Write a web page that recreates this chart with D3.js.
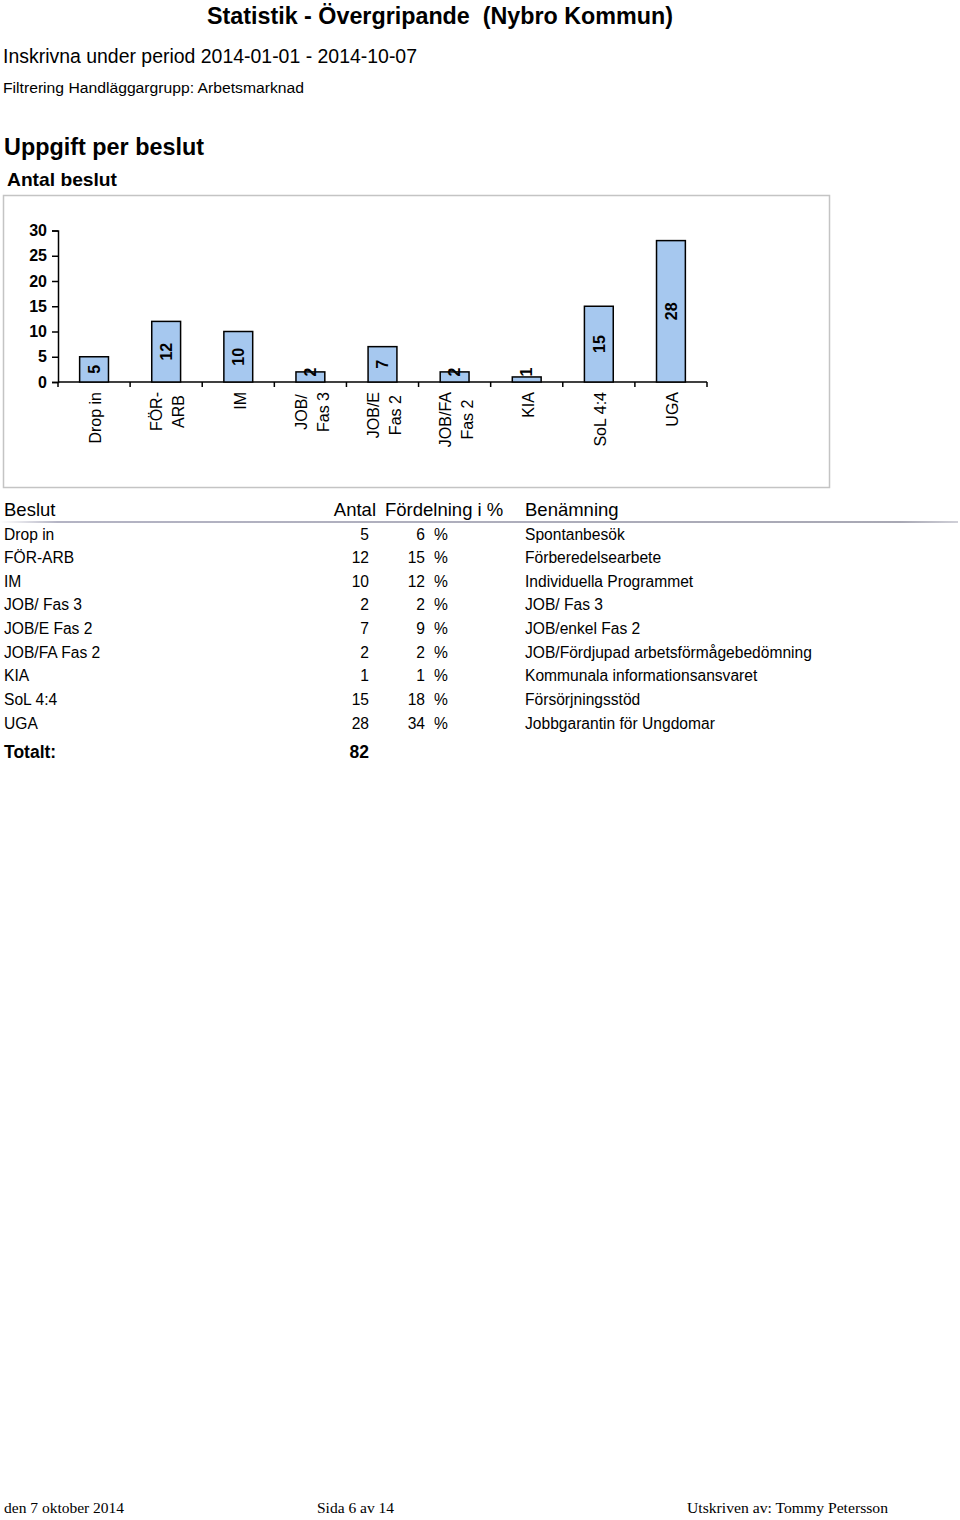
<!DOCTYPE html>
<html><head><meta charset="utf-8">
<script src="https://cdn.jsdelivr.net/npm/d3@7"></script>
<style>
body{margin:0;background:#fff;}
svg{display:block;}
text{white-space:pre;}
</style></head>
<body>
<script>
// ---- data ----
const categories = ["Drop in","FÖR-ARB","IM","JOB/ Fas 3","JOB/E Fas 2","JOB/FA Fas 2","KIA","SoL 4:4","UGA"];
const axisLabels = [["Drop in"],["FÖR-","ARB"],["IM"],["JOB/","Fas 3"],["JOB/E","Fas 2"],["JOB/FA","Fas 2"],["KIA"],["SoL 4:4"],["UGA"]];
const values = [5,12,10,2,7,2,1,15,28];
const percents = [6,15,12,2,9,2,1,18,34];
const descriptions = ["Spontanbesök","Förberedelsearbete","Individuella Programmet","JOB/ Fas 3","JOB/enkel Fas 2","JOB/Fördjupad arbetsförmågebedömning","Kommunala informationsansvaret","Försörjningsstöd","Jobbgarantin för Ungdomar"];
const yTicks = [0,5,10,15,20,25,30];
const total = 82;

const W = 960, H = 1520;
const FONT = "'Liberation Sans', Arial, Helvetica, sans-serif";
const svg = d3.select("body").append("svg").attr("width", W).attr("height", H)
  .style("font-family", FONT);

// ---- headings ----
function txt(x, y, s, size, weight, len, anchor){
  const t = svg.append("text").attr("x", x).attr("y", y).text(s)
    .attr("font-size", size).attr("font-weight", weight || "normal").attr("fill", "#000");
  if (len) t.attr("textLength", len).attr("lengthAdjust", "spacingAndGlyphs");
  if (anchor) t.attr("text-anchor", anchor);
  return t;
}
txt(207, 24, "Statistik - Övergripande  (Nybro Kommun)", 23.5, "bold", 466);
txt(3, 63, "Inskrivna under period 2014-01-01 - 2014-10-07", 20.5, "normal", 414);
txt(3, 93, "Filtrering Handläggargrupp: Arbetsmarknad", 15.5, "normal", 301);
txt(4, 155, "Uppgift per beslut", 24, "bold", 200);
txt(7, 186, "Antal beslut", 19, "bold", 110);

// ---- chart frame ----
svg.append("rect").attr("x", 3.5).attr("y", 195.5).attr("width", 826).attr("height", 292)
  .attr("fill", "#fff").attr("stroke", "#c4c4c4").attr("stroke-width", 1.5);

const x = d3.scaleBand().domain(categories).range([58, 707]).paddingInner(0.6).paddingOuter(0.3);
const y = d3.scaleLinear().domain([0, 30]).range([382, 230.5]);

const g = svg.append("g");

// y axis
const yAxis = g.append("g").attr("transform", "translate(58,0)")
  .call(d3.axisLeft(y).tickValues(yTicks).tickSize(6).tickPadding(5));
yAxis.select(".domain").attr("stroke", "#000").attr("stroke-width", 1.5);
yAxis.selectAll(".tick line").attr("stroke", "#000").attr("stroke-width", 1.5);
yAxis.selectAll(".tick text").attr("font-size", 16).attr("font-weight", "bold")
  .attr("font-family", FONT).attr("fill", "#000");

// x axis line + ticks at band boundaries
const step = x.step();
const x0 = 58;
g.append("line").attr("x1", 58).attr("x2", 707).attr("y1", y(0)).attr("y2", y(0))
  .attr("stroke", "#000").attr("stroke-width", 1.5);
const bounds = d3.range(categories.length + 1).map(i => x0 + i * step);
g.selectAll(".xtick").data(bounds).join("line")
  .attr("x1", d => d).attr("x2", d => d).attr("y1", y(0)).attr("y2", y(0) + 5)
  .attr("stroke", "#000").attr("stroke-width", 1.5);

// bars
g.selectAll(".bar").data(values).join("rect")
  .attr("x", (d, i) => x(categories[i]))
  .attr("y", d => y(d))
  .attr("width", x.bandwidth())
  .attr("height", d => y(0) - y(d))
  .attr("fill", "#a6c8ef").attr("stroke", "#000").attr("stroke-width", 1.5);

// value labels
g.selectAll(".vlab").data(values).join("text")
  .attr("transform", (d, i) => {
    const cx = x(categories[i]) + x.bandwidth() / 2;
    const cy = Math.min((y(d) + y(0)) / 2, y(0) - 10);
    return `translate(${cx},${cy}) rotate(-90)`;
  })
  .attr("text-anchor", "middle").attr("dy", "0.36em")
  .attr("font-size", 16).attr("font-weight", "bold").attr("fill", "#000")
  .text(d => d);

// category labels (rotated, multi-line)
axisLabels.forEach((lines, i) => {
  const cx = x(categories[i]) + x.bandwidth() / 2 + 1.5;
  const grp = g.append("g").attr("transform", `translate(${cx},392) rotate(-90)`);
  const ts = lines.map((s, k) => grp.append("text")
    .attr("y", (k - (lines.length - 1) / 2) * 22)
    .attr("dy", "0.36em").attr("text-anchor", "middle")
    .attr("font-size", 16).attr("fill", "#000").text(s));
  const maxLen = d3.max(ts, t => t.node().getComputedTextLength());
  ts.forEach(t => t.attr("x", -maxLen / 2));
});

// ---- table ----
const defs = svg.append("defs");
const grad = defs.append("linearGradient").attr("id", "hl").attr("x1", "0%").attr("x2", "100%");
grad.append("stop").attr("offset", "0%").attr("stop-color", "#ffffff");
grad.append("stop").attr("offset", "6%").attr("stop-color", "#b4b4c4");
grad.append("stop").attr("offset", "94%").attr("stop-color", "#a8a8b4");
grad.append("stop").attr("offset", "100%").attr("stop-color", "#d0d0d8");
svg.append("rect").attr("x", 0).attr("y", 521).attr("width", 958).attr("height", 2).attr("fill", "url(#hl)");

txt(4, 516, "Beslut", 18.5);
txt(376, 516, "Antal", 18.5, "normal", null, "end");
txt(385, 516, "Fördelning i %", 18.5);
txt(525, 516, "Benämning", 18.5);

const rowY0 = 539.5, rowStep = 23.65;
categories.forEach((c, i) => {
  const yy = rowY0 + i * rowStep;
  txt(4, yy, c, 15.6);
  txt(369, yy, String(values[i]), 15.6, "normal", null, "end");
  txt(425, yy, String(percents[i]), 15.6, "normal", null, "end");
  txt(434, yy, "%", 15.6);
  txt(525, yy, descriptions[i], 15.6);
});
txt(4, 758, "Totalt:", 17.5, "bold");
txt(369, 758, String(total), 17.5, "bold", null, "end");

// ---- footer ----
const SERIF = "'Liberation Serif', 'Times New Roman', serif";
txt(4, 1513, "den 7 oktober 2014", 15.5).attr("font-family", SERIF);
txt(317, 1513, "Sida 6 av 14", 15.5).attr("font-family", SERIF);
txt(687, 1513, "Utskriven av: Tommy Petersson", 15.5, "normal", 201).attr("font-family", SERIF);
</script>
</body></html>
